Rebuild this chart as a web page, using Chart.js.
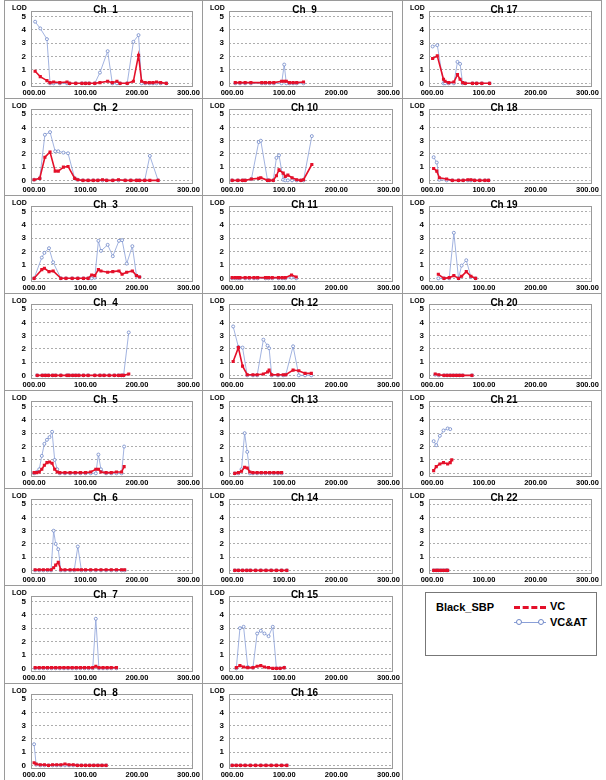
<!DOCTYPE html>
<html><head><meta charset="utf-8">
<script src="https://cdn.jsdelivr.net/npm/chart.js@4.4.1/dist/chart.umd.min.js"></script>
<style>
body{margin:0;background:#fff;}
#wrap{position:relative;width:606px;height:780px;overflow:hidden;background:#fff;}
.panel{position:absolute;box-sizing:border-box;border:1px solid #9a9a9a;background:#fff;}
.panel canvas{display:block;}
#legend{position:absolute;left:425px;top:592px;width:172px;height:64px;box-sizing:border-box;border:1px solid #777;font-family:"Liberation Sans",Arial,sans-serif;font-weight:bold;color:#000;}
</style></head><body><div id="wrap"></div>
<script>
// ---- data (position cM, LOD) ----
const xTickLabels = ["000.00","100.00","200.00","300.00"];
const yTickValues = [0,1,2,3,4,5];
const seriesNames = ["VC","VC&AT"];

const ch1Pos  = [2,12,25,31,38,50,64,69,81,93,100,107,118,128,143,152,161,167,181,193,203,209,216,224,231,238,246,257];
const ch1VC   = [0.9,0.5,0.2,0.05,0.1,0.05,0.1,0,0,0,0,0,0,0.05,0.15,0.05,0.15,0,0,0.15,2.1,0.15,0.05,0.05,0.05,0.1,0.05,0];
const ch1VCAT = [4.6,4.1,3.3,0,0,0,0,0,0,0,0,0,0,0.8,2.4,0,0,0,0,3.1,3.6,0,0,0,0,0,0,0];

const ch2Pos  = [0,11,21,31,41,47,57,66,79,85,95,105,115,124,133,141,153,164,177,188,199,205,215,225,241];
const ch2VC   = [0.05,0.15,1.75,2.15,0.7,0.7,1.0,1.05,0.15,0.05,0,0,0,0,0.05,0,0,0.05,0,0,0,0,0,0,0];
const ch2VCAT = [0.05,0.15,3.45,3.65,2.2,2.2,2.1,2.05,0.15,0.05,0,0,0,0,0,0,0,0,0,0,0,0,0,1.85,0];

const ch3Pos  = [0,15,20,29,37,52,62,74,85,96,105,112,118,125,130,143,153,165,171,180,191,199,205];
const ch3VC   = [0,0.65,0.75,0.5,0.55,0,0,0,0,0,0,0.25,0.2,0.65,0.55,0.45,0.5,0.55,0.3,0.45,0.55,0.2,0.1];
const ch3VCAT = [0,1.55,1.9,2.25,1.2,0,0,0,0,0,0,0,0.05,2.8,2.05,2.5,1.65,2.8,2.85,1.1,2.4,0.2,0.1];

const ch4Pos  = [6,16,22,28,36,42,52,64,68,75,81,87,96,105,118,128,136,146,156,164,170,174,184];
const ch4VC   = [0,0,0,0,0,0,0,0,0,0,0,0,0,0,0,0,0,0,0,0,0,0,0.1];
const ch4VCAT = [0,0,0,0,0,0,0,0,0,0,0,0,0,0,0,0,0,0,0,0,0,0,3.25];

const ch5Pos  = [0,5,10,15,20,25,30,35,40,45,50,60,70,80,90,100,110,120,125,130,140,150,160,170,175];
const ch5VC   = [0.05,0.05,0.1,0.3,0.6,0.8,0.85,0.75,0.3,0.1,0.05,0.05,0.05,0.05,0.05,0.05,0.1,0.3,0.3,0.1,0.05,0.05,0.1,0.1,0.5];
const ch5VCAT = [0,0.1,0.3,1.3,2.2,2.5,2.7,3.1,1.0,0.3,0,0,0,0,0,0,0,0,1.4,0.3,0,0,0,0,2.0];

const ch6Pos  = [2,10,18,26,33,38,42,47,52,60,70,78,85,92,100,110,120,130,140,150,160,170,176];
const ch6VC   = [0.05,0.05,0.05,0.05,0.05,0.2,0.4,0.6,0.05,0.05,0.05,0.05,0.05,0.05,0.05,0.05,0.05,0.05,0.05,0.05,0.05,0.05,0.05];
const ch6VCAT = [0,0,0,0,0,3.0,2.0,1.6,0,0,0,0,1.8,0,0,0,0,0,0,0,0,0,0];

const ch7Pos  = [2,10,18,26,34,42,50,58,66,74,82,90,98,106,114,120,126,134,142,150,160];
const ch7VC   = [0.05,0.05,0.05,0.05,0.05,0.05,0.05,0.05,0.05,0.05,0.05,0.05,0.05,0.05,0.05,0.15,0.05,0.05,0.05,0.05,0.05];
const ch7VCAT = [0,0,0,0,0,0,0,0,0,0,0,0,0,0,0,3.7,0,0,0,0,0];

const ch8Pos  = [0,4,12,20,28,36,44,52,60,68,76,84,92,100,108,116,124,132,140];
const ch8VC   = [0.2,0.1,0.05,0.05,0,0.05,0.05,0.05,0.1,0.05,0.05,0,0,0,0,0,0,0,0];
const ch8VCAT = [1.6,0.05,0,0,0,0,0,0,0,0,0,0,0,0,0,0,0,0,0];

const ch9Pos  = [6,15,25,36,57,64,72,80,95,100,104,110,117,124,137];
const ch9VC   = [0.05,0.05,0.05,0.05,0.05,0.05,0.05,0.05,0.15,0.15,0.15,0.05,0.05,0.05,0.1];
const ch9VCAT = [0,0,0,0,0,0,0,0,0,1.4,0,0,0,0,0];

const ch10Pos  = [0,11,20,25,37,51,55,68,71,79,85,90,98,102,107,115,124,132,137,153];
const ch10VC   = [0,0,0,0,0.1,0.15,0.2,0,0,0,0.35,0.8,0.55,0.3,0.4,0.2,0.05,0,0.05,1.2];
const ch10VCAT = [0,0,0,0,0.1,2.9,3.0,0,0,0,1.7,1.9,0.05,0,0,0,0,0,0,3.35];

const ch11Pos  = [0,6,11,15,25,33,42,49,64,70,77,89,96,102,114,123];
const ch11VC   = [0.05,0.05,0.05,0.05,0.05,0.05,0.05,0.05,0.05,0.05,0.05,0.05,0.05,0.05,0.25,0.1];
const ch11VCAT = [0,0,0,0,0,0,0,0,0,0,0,0,0,0,0.05,0];

const ch12Pos  = [2,12,20,29,40,48,60,68,71,76,88,98,103,117,128,140,152];
const ch12VC   = [1.05,2.1,0.7,0.05,0.05,0.05,0.1,0.25,0.4,0.05,0.05,0.05,0.05,0.4,0.35,0.15,0.15];
const ch12VCAT = [3.7,2.15,2.1,0,0,0,2.7,2.25,2.05,0,0,0,0.05,2.2,0,0,0];

const ch13Pos  = [5,12,18,24,29,34,40,48,56,64,72,80,88,95];
const ch13VC   = [0,0.05,0.15,0.45,0.4,0.1,0.05,0.05,0.05,0.05,0.05,0.05,0.05,0.05];
const ch13VCAT = [0,0,0.3,3.0,1.6,0,0,0,0,0,0,0,0,0];

const ch14Pos  = [5,12,20,28,35,45,55,65,75,85,95,105];
const ch14VC   = [0,0,0,0,0,0,0,0,0,0,0,0];
const ch14VCAT = [0,0,0,0,0,0,0,0,0,0,0,0];

const ch15Pos  = [8,15,22,30,40,48,55,62,70,78,85,92,100];
const ch15VC   = [0.05,0.2,0.1,0.05,0.05,0.15,0.2,0.1,0.05,0,0,0,0.05];
const ch15VCAT = [0,3.0,3.1,0.1,0.05,2.6,2.8,2.6,2.4,3.1,0,0,0.05];

const ch16Pos  = [0,8,16,25,35,45,55,65,75,85,95,105];
const ch16VC   = [0,0,0,0,0,0,0,0,0,0,0,0];
const ch16VCAT = [0,0,0,0,0,0,0,0,0,0,0,0];

const ch17Pos  = [1,10,22,25,32,42,49,54,59,64,78,86,96,111];
const ch17VC   = [1.85,2.05,0.3,0.15,0.05,0.1,0.65,0.3,0.05,0,0,0,0,0];
const ch17VCAT = [2.75,2.85,0,0,0,0,1.6,1.45,0,0,0,0,0,0];

const ch18Pos  = [3,9,14,28,39,51,60,69,75,82,92,102,109];
const ch18VC   = [0.9,0.7,0.2,0.1,0,0,0,0.05,0.05,0,0,0,0];
const ch18VCAT = [1.75,1.35,0.05,0,0,0,0,0,0,0,0,0,0];

const ch19Pos  = [12,23,33,42,51,57,66,75,84];
const ch19VC   = [0.3,0,0.05,0.2,0,0.15,0.5,0.15,0];
const ch19VCAT = [0,0,0,3.4,0,0.95,1.35,0.1,0];

const ch20Pos  = [6,13,23,29,35,41,47,53,59,77];
const ch20VC   = [0.1,0.05,0,0,0,0,0,0,0,0];
const ch20VCAT = [0.05,0,0,0,0,0,0,0,0,0];

const ch21Pos  = [3,8,15,22,30,35,38];
const ch21VC   = [0.2,0.5,0.7,0.8,0.7,0.8,1.0];
const ch21VCAT = [2.4,2.1,2.8,3.2,3.35,3.3,null];

const ch22Pos  = [3,8,12,17,22,27,30];
const ch22VC   = [0,0,0,0,0,0,0];
const ch22VCAT = [0,0,0,0,0,0,0];

// ---- layout ----
const RED = '#e4102a', BLUE = '#8aa0d8';
const FONT = '"Liberation Sans", Arial, sans-serif';
const colLeft = [4,202,402], colW = [199,201,200];
const rowTop = r => Math.round(r*97.5);
const panels = [
  [1,0,0,ch1Pos,ch1VC,ch1VCAT],[2,0,1,ch2Pos,ch2VC,ch2VCAT],[3,0,2,ch3Pos,ch3VC,ch3VCAT],[4,0,3,ch4Pos,ch4VC,ch4VCAT],
  [5,0,4,ch5Pos,ch5VC,ch5VCAT],[6,0,5,ch6Pos,ch6VC,ch6VCAT],[7,0,6,ch7Pos,ch7VC,ch7VCAT],[8,0,7,ch8Pos,ch8VC,ch8VCAT],
  [9,1,0,ch9Pos,ch9VC,ch9VCAT],[10,1,1,ch10Pos,ch10VC,ch10VCAT],[11,1,2,ch11Pos,ch11VC,ch11VCAT],[12,1,3,ch12Pos,ch12VC,ch12VCAT],
  [13,1,4,ch13Pos,ch13VC,ch13VCAT],[14,1,5,ch14Pos,ch14VC,ch14VCAT],[15,1,6,ch15Pos,ch15VC,ch15VCAT],[16,1,7,ch16Pos,ch16VC,ch16VCAT],
  [17,2,0,ch17Pos,ch17VC,ch17VCAT],[18,2,1,ch18Pos,ch18VC,ch18VCAT],[19,2,2,ch19Pos,ch19VC,ch19VCAT],[20,2,3,ch20Pos,ch20VC,ch20VCAT],
  [21,2,4,ch21Pos,ch21VC,ch21VCAT],[22,2,5,ch22Pos,ch22VC,ch22VCAT]
];

const framePlugin = {
  id:'frame',
  afterDraw(chart, args, opts){
    const {ctx, chartArea:a} = chart;
    ctx.save();
    ctx.strokeStyle = '#9a9a9a'; ctx.lineWidth = 1; ctx.setLineDash([]);
    ctx.strokeRect(Math.round(a.left)+0.5, Math.round(a.top)+0.5, Math.round(a.right-a.left), Math.round(a.bottom-a.top));
    ctx.fillStyle = '#000';
    ctx.font = 'bold 7px '+FONT; ctx.textBaseline='alphabetic'; ctx.textAlign='left';
    ctx.fillText('LOD', 7, 9);
    ctx.font = 'bold 10px '+FONT; ctx.textAlign='center';
    ctx.fillText(opts.title, chart.width/2 + 2, 12);
    ctx.restore();
  }
};

const wrap = document.getElementById('wrap');
panels.forEach(([n,c,r,pos,vc,vcat])=>{
  const d = document.createElement('div');
  d.className='panel';
  const top = rowTop(r), h = rowTop(r+1)-top+1;
  d.style.left = colLeft[c]+'px'; d.style.top = top+'px';
  d.style.width = colW[c]+'px'; d.style.height = h+'px';
  const cv = document.createElement('canvas');
  cv.width = colW[c]-2; cv.height = h-2;
  cv.style.width = cv.width+'px'; cv.style.height = cv.height+'px';
  d.appendChild(cv); wrap.appendChild(d);
  new Chart(cv, {
    type:'line',
    data:{datasets:[
      {label:seriesNames[0], data:pos.map((x,i)=>({x, y:vc[i]})), borderColor:RED, backgroundColor:RED,
       borderWidth:1.6, pointStyle:'rect', pointRadius:2.2, pointBorderWidth:0, pointBackgroundColor:RED, order:0, spanGaps:true},
      {label:seriesNames[1], data:pos.map((x,i)=>({x, y:vcat[i]})), borderColor:BLUE, backgroundColor:'#fff',
       borderWidth:0.8, pointStyle:'circle', pointRadius:1.5, pointBorderWidth:0.8, pointBorderColor:'#7088c8', order:1, spanGaps:false}
    ]},
    options:{
      animation:false, responsive:false, devicePixelRatio:1,
      layout:{padding:{top:10, right:5, left:0, bottom:0}},
      plugins:{legend:{display:false}, tooltip:{enabled:false}, frame:{title:'Ch '+String(n).padStart(2,' ')}},
      scales:{
        x:{type:'linear', min:-6, max:306,
           afterBuildTicks:s=>{s.ticks=[0,100,200,300].map(v=>({value:v}));},
           afterFit:s=>{s.height=12;},
           ticks:{callback:(v)=>xTickLabels[Math.round(v/100)], color:'#000', font:{family:FONT, size:7.5, weight:'bold'}, maxRotation:0, padding:2, autoSkip:false},
           grid:{display:false, drawTicks:false}, border:{display:false}},
        y:{min:-0.2, max:5.4,
           afterBuildTicks:s=>{s.ticks=yTickValues.map(v=>({value:v}));},
           afterFit:s=>{s.width=26;},
           ticks:{color:'#000', font:{family:FONT, size:8, weight:'bold'}, padding:5},
           grid:{color:'#8a8a8a', lineWidth:0.7, drawTicks:false}, border:{display:false, dash:[2,2]}}
      }
    },
    plugins:[framePlugin]
  });
});

// legend box
const lg = document.createElement('div'); lg.id='legend';
lg.innerHTML =
 '<div style="position:absolute;left:10px;top:8px;font-size:11px;">Black_SBP</div>'+
 '<div style="position:absolute;left:88px;top:13px;width:32px;height:0;border-top:3px dashed '+RED+';"></div>'+
 '<div style="position:absolute;left:124px;top:7px;font-size:11px;">'+seriesNames[0]+'</div>'+
 '<div style="position:absolute;left:88px;top:29px;width:32px;height:0;border-top:1px solid '+BLUE+';"></div>'+
 '<div style="position:absolute;left:90px;top:26px;width:4px;height:4px;border:1px solid #7088c8;border-radius:50%;background:#fff;"></div>'+
 '<div style="position:absolute;left:112px;top:26px;width:4px;height:4px;border:1px solid #7088c8;border-radius:50%;background:#fff;"></div>'+
 '<div style="position:absolute;left:124px;top:23px;font-size:11px;">'+seriesNames[1]+'</div>';
wrap.appendChild(lg);
</script></body></html>
